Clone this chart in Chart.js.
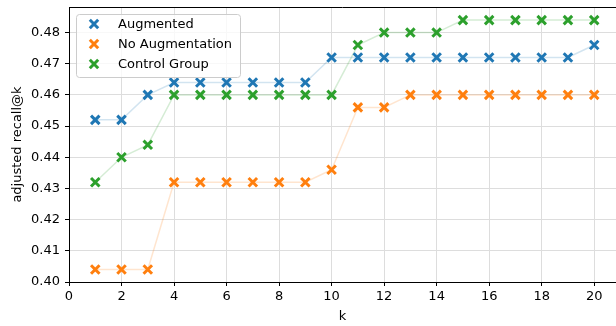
<!DOCTYPE html>
<html>
<head>
<meta charset="utf-8">
<script src="https://cdn.jsdelivr.net/npm/chart.js@4/dist/chart.umd.min.js"></script>
<style>
  html, body { margin: 0; padding: 0; background: #fff; }
  #wrap { width: 616px; height: 326px; }
</style>
</head>
<body>
<div id="wrap"><canvas id="recall-chart"></canvas></div>
<script>
const ks = [1, 2, 3, 4, 5, 6, 7, 8, 9, 10, 11, 12, 13, 14, 15, 16, 17, 18, 19, 20]
const augmented = [0.452, 0.452, 0.460, 0.464, 0.464, 0.464, 0.464, 0.464, 0.464, 0.472,
    0.472, 0.472, 0.472, 0.472, 0.472, 0.472, 0.472, 0.472, 0.472, 0.476]
const noAugmentation = [0.404, 0.404, 0.404, 0.432, 0.432, 0.432, 0.432, 0.432, 0.432, 0.436,
    0.456, 0.456, 0.460, 0.460, 0.460, 0.460, 0.460, 0.460, 0.460, 0.460]
const controlGroup = [0.432, 0.440, 0.444, 0.460, 0.460, 0.460, 0.460, 0.460, 0.460, 0.460,
    0.476, 0.480, 0.480, 0.480, 0.484, 0.484, 0.484, 0.484, 0.484, 0.484]
const xTicks = [0, 2, 4, 6, 8, 10, 12, 14, 16, 18, 20]
const yTicks = [0.40, 0.41, 0.42, 0.43, 0.44, 0.45, 0.46, 0.47, 0.48]

const font = { family: 'DejaVu Sans', size: 13 }

function series(label, values, rgb) {
    return {
        label: label,
        data: ks.map((k, i) => ({ x: k, y: values[i] })),
        showLine: true,
        borderColor: 'rgba(' + rgb + ', 0.2)',
        borderWidth: 1.5,
        pointStyle: 'crossRot',
        pointRadius: 6,
        pointHoverRadius: 6,
        pointBorderWidth: 3,
        pointBorderColor: 'rgb(' + rgb + ')',
        pointBackgroundColor: 'rgb(' + rgb + ')'
    }
}

// top spine + matplotlib style legend inside the axes
const extras = {
    id: 'extras',
    afterDraw(chart) {
        const ctx = chart.ctx
        const a = chart.chartArea
        ctx.save()
        ctx.strokeStyle = '#000'
        ctx.lineWidth = 1
        ctx.beginPath()
        ctx.moveTo(a.left, a.top + 0.5)
        ctx.lineTo(a.right, a.top + 0.5)
        ctx.stroke()

        const bx = 76, by = 14, bw = 164, bh = 63
        ctx.beginPath()
        ctx.roundRect(bx + 0.5, by + 0.5, bw, bh, 3)
        ctx.fillStyle = 'rgba(255,255,255,0.8)'
        ctx.fill()
        ctx.strokeStyle = '#cccccc'
        ctx.stroke()

        ctx.font = '13px "DejaVu Sans"'
        ctx.textBaseline = 'middle'
        chart.data.datasets.forEach((ds, i) => {
            const cy = 24 + i * 20
            const cx = 94
            const d = 4.2
            ctx.strokeStyle = ds.pointBorderColor
            ctx.lineWidth = 3
            ctx.beginPath()
            ctx.moveTo(cx - d, cy - d); ctx.lineTo(cx + d, cy + d)
            ctx.moveTo(cx - d, cy + d); ctx.lineTo(cx + d, cy - d)
            ctx.stroke()
            ctx.fillStyle = '#000'
            ctx.fillText(ds.label, 118, cy + 1)
        })
        ctx.restore()
    }
}

new Chart(document.getElementById('recall-chart'), {
    type: 'scatter',
    data: {
        datasets: [
            series('Augmented', augmented, '31, 119, 180'),
            series('No Augmentation', noAugmentation, '255, 127, 14'),
            series('Control Group', controlGroup, '44, 160, 44')
        ]
    },
    options: {
        responsive: true,
        maintainAspectRatio: false,
        animation: false,
        layout: { autoPadding: false, padding: { top: 7, right: 0, left: 0, bottom: 0 } },
        plugins: {
            legend: { display: false },
            tooltip: { enabled: false }
        },
        scales: {
            x: {
                type: 'linear',
                min: 0,
                max: 20.83,
                afterBuildTicks: s => { s.ticks = xTicks.map(v => ({ value: v })) },
                afterFit: s => { s.height = 44; s.paddingLeft = 0; s.paddingRight = 0 },
                grid: { color: '#dddddd', tickColor: '#000', tickLength: 4 },
                border: { color: '#000' },
                ticks: { font: font, color: '#000', padding: 3, maxRotation: 0 },
                title: { display: true, text: 'k', font: font, color: '#000', padding: { top: 0, bottom: 2 } }
            },
            y: {
                min: 0.40,
                max: 0.4882,
                afterBuildTicks: s => { s.ticks = yTicks.map(v => ({ value: v })) },
                afterFit: s => { s.width = 69; s.paddingTop = 0; s.paddingBottom = 0 },
                grid: { color: '#dddddd', tickColor: '#000', tickLength: 4 },
                border: { color: '#000' },
                ticks: { font: font, color: '#000', padding: 5, callback: v => v.toFixed(2) },
                title: { display: true, text: 'adjusted recall@k', font: font, color: '#000', padding: { top: 10, bottom: 0 } }
            }
        }
    },
    plugins: [extras]
})
</script>
</body>
</html>
